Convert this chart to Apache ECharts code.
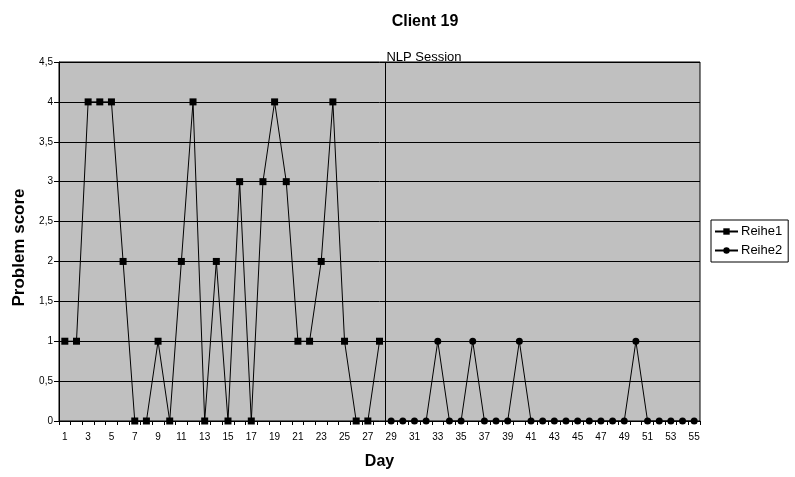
<!DOCTYPE html>
<html>
<head>
<meta charset="utf-8">
<script src="https://cdn.jsdelivr.net/npm/echarts@6/dist/echarts.min.js"></script>
<style>
  html, body { margin: 0; padding: 0; background: #fff; }
  #chart { width: 795px; height: 477px; }
</style>
</head>
<body>
<div id="chart"></div>
<script>
// days 1..55
var days = [];
for (var d = 1; d <= 55; d++) days.push(String(d));

// baseline, days 1-28
var reihe1 = [1, 1, 4, 4, 4, 2, 0, 0, 1, 0, 2, 4, 0, 2, 0, 3, 0, 3, 4, 3, 1, 1, 2, 4, 1, 0, 0, 1];
// after NLP session, days 29-55
var reihe2 = [0, 0, 0, 0, 1, 0, 0, 1, 0, 0, 0, 1, 0, 0, 0, 0, 0, 0, 0, 0, 0, 1, 0, 0, 0, 0, 0];

var sessionDay = 28.5;

var pad = function (before, values, total) {
    var out = [];
    for (var i = 0; i < before; i++) out.push(null);
    for (var j = 0; j < values.length; j++) out.push(values[j]);
    while (out.length < total) out.push(null);
    return out;
};

var font = 'Liberation Sans, Arial, sans-serif';

var myChart = echarts.init(document.getElementById('chart'));

var option = {
    animation: false,
    textStyle: { fontFamily: font },
    title: [
        {
            text: 'Client 19',
            left: 420,
            textAlign: 'center',
            top: 9,
            textStyle: { fontSize: 16, fontWeight: 'bold', color: '#000', fontFamily: font }
        },
        {
            text: 'NLP Session',
            left: 419,
            textAlign: 'center',
            top: 46,
            textStyle: { fontSize: 13, fontWeight: 'normal', color: '#000', fontFamily: font }
        }
    ],
    legend: {
        orient: 'vertical',
        left: 711,
        top: 220,
        data: ['Reihe1', 'Reihe2'],
        borderColor: '#000',
        borderWidth: 1,
        borderRadius: 0,
        padding: [5, 6, 5, 3],
        itemGap: 6,
        itemWidth: 23,
        itemHeight: 8,
        textStyle: { fontSize: 13, color: '#000', fontFamily: font, padding: [0, 0, 0, -2] }
    },
    grid: {
        left: 59,
        right: 95,
        top: 62,
        bottom: 56,
        show: true,
        backgroundColor: '#C0C0C0',
        borderColor: '#000',
        borderWidth: 1
    },
    xAxis: [
        {
            type: 'category',
            data: days,
            boundaryGap: true,
            name: 'Day',
            nameLocation: 'middle',
            nameGap: 33,
            nameTextStyle: { fontSize: 16, fontWeight: 'bold', color: '#000', fontFamily: font },
            axisLine: { lineStyle: { color: '#000' } },
            axisTick: { show: true, interval: 0, length: 4, lineStyle: { color: '#000' } },
            axisLabel: { interval: 1, fontSize: 10, color: '#000', margin: 11 },
            splitLine: { show: false }
        },
        {
            type: 'value',
            min: 0.5,
            max: 55.5,
            show: false
        }
    ],
    yAxis: {
        type: 'value',
        min: 0,
        max: 4.5,
        interval: 0.5,
        name: 'Problem score',
        nameLocation: 'middle',
        nameGap: 30,
        nameTextStyle: {
            fontSize: 17,
            fontWeight: 'bold',
            color: '#000',
            fontFamily: font,
            padding: [0, 12, 0, 0]
        },
        axisLine: { show: true, lineStyle: { color: '#000' } },
        axisTick: { show: true, length: 5, lineStyle: { color: '#000' } },
        axisLabel: {
            fontSize: 10,
            color: '#000',
            margin: 6,
            formatter: function (v) { return String(v).replace('.', ','); }
        },
        splitLine: { show: true, lineStyle: { color: '#000', width: 1 } }
    },
    series: [
        {
            name: 'Reihe1',
            type: 'line',
            data: pad(0, reihe1, days.length),
            symbol: 'rect',
            symbolSize: 7,
            itemStyle: { color: '#000' },
            lineStyle: { color: '#000', width: 1 },
            connectNulls: false
        },
        {
            name: 'Reihe2',
            type: 'line',
            data: pad(reihe1.length, reihe2, days.length),
            symbol: 'circle',
            symbolSize: 7,
            showAllSymbol: true,
            itemStyle: { color: '#000' },
            lineStyle: { color: '#000', width: 1 },
            connectNulls: false
        },
        {
            name: 'session',
            type: 'line',
            xAxisIndex: 1,
            data: [],
            silent: true,
            markLine: {
                silent: true,
                symbol: 'none',
                label: { show: false },
                lineStyle: { color: '#000', width: 1, type: 'solid' },
                data: [{ xAxis: sessionDay }]
            }
        }
    ]
};

myChart.setOption(option);
</script>
</body>
</html>
